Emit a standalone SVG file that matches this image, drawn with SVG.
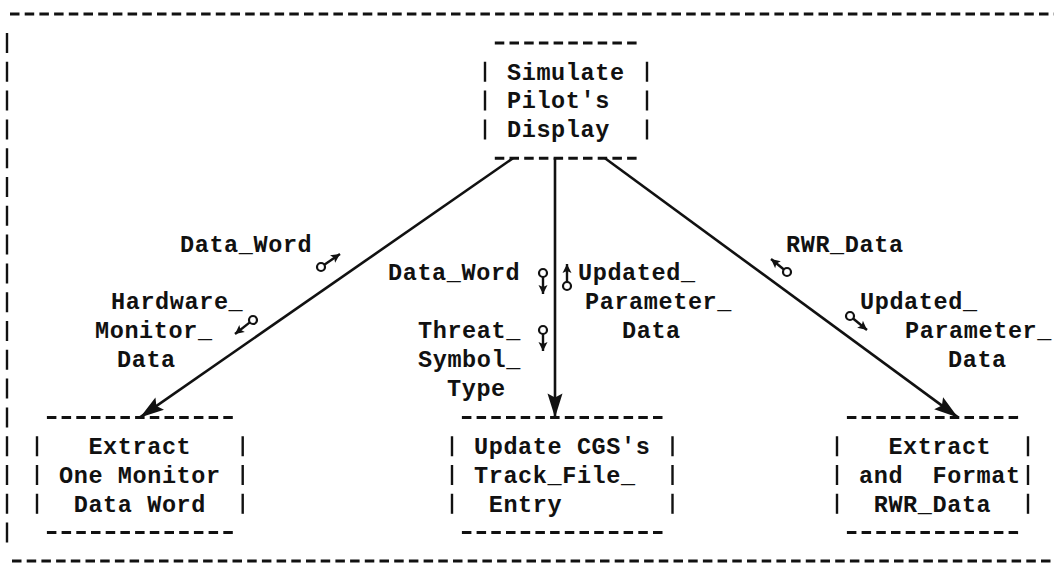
<svg xmlns="http://www.w3.org/2000/svg" width="1054" height="569" viewBox="0 0 1054 569">
<style>
  .t { font-family: "Liberation Mono", "Courier New", monospace; font-size: 23.5px; font-weight: bold; letter-spacing: 0.6px; fill: #111; white-space: pre; }
  .dh { stroke: #111; stroke-width: 3; stroke-dasharray: 9.5 5.2; fill: none; }
  .bar { stroke: #111; stroke-width: 2.4; stroke-dasharray: 20 8.8; fill: none; }
  .conn { stroke: #111; stroke-width: 2.6; fill: none; }
  .cpl { stroke: #111; stroke-width: 2.4; fill: none; }
  .cplc { stroke: #111; stroke-width: 2.2; fill: #fff; }
</style>
<defs>
  <marker id="ah" markerUnits="userSpaceOnUse" markerWidth="26" markerHeight="18" viewBox="-25 -9 26 18" refX="0" refY="0" orient="auto">
    <path d="M0,0 L-24,-7.5 L-20,0 L-24,7.5 Z" fill="#111"/>
  </marker>
  <marker id="ca" markerUnits="userSpaceOnUse" markerWidth="11" markerHeight="11" viewBox="-10 -5.5 11 11" refX="0" refY="0" orient="auto">
    <path d="M0,0 L-9,-4.5 L-7,0 L-9,4.5 Z" fill="#111"/>
  </marker>
</defs>

<g id="frame">
  <line class="dh" x1="10" y1="14" x2="1054" y2="14"/>
  <line class="bar" x1="7" y1="33" x2="7" y2="543"/>
  <line class="dh" x1="12" y1="561" x2="1054" y2="561"/>
</g>

<g id="connectors">
  <line class="conn" x1="513" y1="158.2" x2="140" y2="417.4" marker-end="url(#ah)"/>
  <line class="conn" x1="555" y1="158.2" x2="555" y2="417.4" marker-end="url(#ah)"/>
  <line class="conn" x1="605" y1="158.2" x2="958" y2="417.4" marker-end="url(#ah)"/>

  <g id="couples">
    <circle class="cplc" cx="321" cy="267" r="4"/>
    <line class="cpl" x1="324.3" y1="264.7" x2="340" y2="254" marker-end="url(#ca)"/>
    <circle class="cplc" cx="253" cy="320" r="4"/>
    <line class="cpl" x1="249.8" y1="322.4" x2="235" y2="334" marker-end="url(#ca)"/>
    <circle class="cplc" cx="543" cy="273" r="4"/>
    <line class="cpl" x1="543" y1="277" x2="543" y2="294" marker-end="url(#ca)"/>
    <circle class="cplc" cx="543" cy="330" r="4"/>
    <line class="cpl" x1="543" y1="334" x2="543" y2="351" marker-end="url(#ca)"/>
    <circle class="cplc" cx="567" cy="286" r="4"/>
    <line class="cpl" x1="567" y1="282" x2="567" y2="264" marker-end="url(#ca)"/>
    <circle class="cplc" cx="787" cy="272" r="4"/>
    <line class="cpl" x1="783.9" y1="269.5" x2="771" y2="259" marker-end="url(#ca)"/>
    <circle class="cplc" cx="850" cy="316" r="4"/>
    <line class="cpl" x1="853.1" y1="318.5" x2="867" y2="330" marker-end="url(#ca)"/>
  </g>

  <g id="labels">
    <text class="t" x="180" y="251.6">Data_Word</text>
    <text class="t" x="111" y="309.2">Hardware_</text>
    <text class="t" x="95" y="338">Monitor_</text>
    <text class="t" x="117" y="366.8">Data</text>

    <text class="t" x="388" y="280.4">Data_Word</text>
    <text class="t" x="418" y="338">Threat_</text>
    <text class="t" x="418" y="366.8">Symbol_</text>
    <text class="t" x="447" y="395.6">Type</text>

    <text class="t" x="578" y="280.4">Updated_</text>
    <text class="t" x="585" y="309.2">Parameter_</text>
    <text class="t" x="622" y="338">Data</text>

    <text class="t" x="786" y="251.6">RWR_Data</text>
    <text class="t" x="860" y="309.2">Updated_</text>
    <text class="t" x="905" y="338">Parameter_</text>
    <text class="t" x="948" y="366.8">Data</text>
  </g>
</g>

<g id="node-simulate">
  <line class="dh" x1="494.8" y1="43" x2="640" y2="43"/>
  <line class="bar" x1="485" y1="61.8" x2="485" y2="139.4"/>
  <line class="bar" x1="647" y1="61.8" x2="647" y2="139.4"/>
  <line class="dh" x1="494.8" y1="158.2" x2="640" y2="158.2"/>
  <text class="t" x="507" y="79.5">Simulate</text>
  <text class="t" x="507" y="108.3">Pilot's</text>
  <text class="t" x="507" y="137.1">Display</text>
</g>

<g id="node-extract-monitor">
  <line class="dh" x1="46.9" y1="417.4" x2="233" y2="417.4"/>
  <line class="bar" x1="37" y1="436.2" x2="37" y2="513.8"/>
  <line class="bar" x1="242.7" y1="436.2" x2="242.7" y2="513.8"/>
  <line class="dh" x1="46.9" y1="532.6" x2="233" y2="532.6"/>
  <text class="t" x="88.4" y="453.9">Extract</text>
  <text class="t" x="59" y="482.7">One Monitor</text>
  <text class="t" x="73.7" y="511.5">Data Word</text>
</g>

<g id="node-update-track">
  <line class="dh" x1="461.9" y1="417.4" x2="663" y2="417.4"/>
  <line class="bar" x1="452" y1="436.2" x2="452" y2="513.8"/>
  <line class="bar" x1="672.5" y1="436.2" x2="672.5" y2="513.8"/>
  <line class="dh" x1="461.9" y1="532.6" x2="663" y2="532.6"/>
  <text class="t" x="474" y="453.9">Update CGS's</text>
  <text class="t" x="474" y="482.7">Track_File_</text>
  <text class="t" x="488.7" y="511.5">Entry</text>
</g>

<g id="node-extract-rwr">
  <line class="dh" x1="846.9" y1="417.4" x2="1018.5" y2="417.4"/>
  <line class="bar" x1="837" y1="436.2" x2="837" y2="513.8"/>
  <line class="bar" x1="1028" y1="436.2" x2="1028" y2="513.8"/>
  <line class="dh" x1="846.9" y1="532.6" x2="1018.5" y2="532.6"/>
  <text class="t" x="888.4" y="453.9">Extract</text>
  <text class="t" x="859" y="482.7">and  Format</text>
  <text class="t" x="873.7" y="511.5">RWR_Data</text>
</g>
</svg>
